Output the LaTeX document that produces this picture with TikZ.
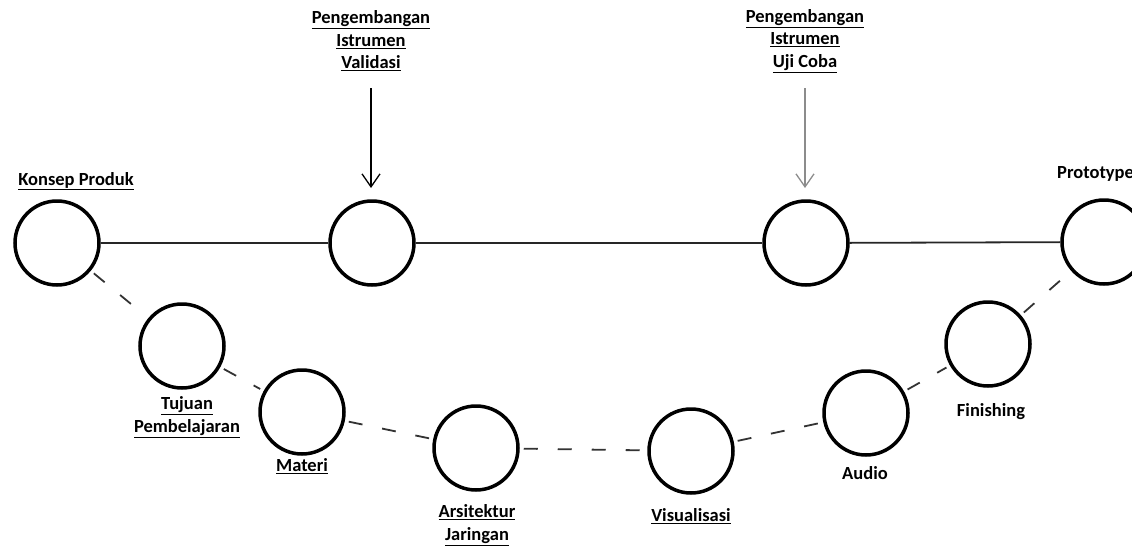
\documentclass[tikz,border=0pt]{standalone}
\usepackage{fontspec}
\setmainfont{Carlito}
\usetikzlibrary{arrows.meta}
\tikzset{
  stage/.style={circle, draw=black, line width=3.5pt, minimum size=84pt, inner sep=0pt},
  lbl/.style={font=\bfseries\fontsize{18.5}{22.5}\selectfont, align=center, inner sep=0pt},
  solidlink/.style={line width=1.8pt, draw=black!85},
  dashlink/.style={line width=1.8pt, draw=black!80, dash pattern=on 14pt off 20pt, shorten <=4pt, shorten >=4pt},
  downarrow/.style={line width=2pt, -{Straight Barb[length=13pt, width=18pt, line width=1.3pt]}},
}
\begin{document}
\begin{tikzpicture}[x=1pt, y=-1pt]
\useasboundingbox (0,0) rectangle (1132,546);
% nodes
\node[stage] (konsep) at (57,243) {};
\node[stage] (valid) at (372,243) {};
\node[stage] (uji) at (806,243) {};
\node[stage] (proto) at (1104,242) {};
\node[stage] (tujuan) at (182,346) {};
\node[stage] (materi) at (302,412) {};
\node[stage] (arsi) at (476,448) {};
\node[stage] (visual) at (691,451) {};
\node[stage] (audio) at (866,413) {};
\node[stage] (finish) at (988,344) {};
% labels
\node[lbl] (lkonsep) at (76,181) {\underline{Konsep Produk}};
\node[lbl] (lvalid) at (371,41) {\underline{Pengembangan}\\\underline{Istrumen}\\\underline{Validasi}};
\node[lbl] (luji) at (805,41) {\underline{Pengembangan}\\\underline{Istrumen}\\\underline{Uji Coba}};
\node[lbl, anchor=west] (lproto) at (1057,174) {Prototype};
\node[lbl] (ltujuan) at (187,417) {\underline{Tujuan}\\\underline{Pembelajaran}};
\node[lbl] (lmateri) at (302,466) {\underline{Materi}};
\node[lbl] (larsi) at (477,525) {\underline{Arsitektur}\\\underline{Jaringan}};
\node[lbl] (lvisual) at (691,516) {\underline{Visualisasi}};
\node[lbl] (laudio) at (865,473) {Audio};
\node[lbl] (lfinish) at (991,412) {Finishing};
% arrows
\coordinate (avs) at (371,88);
\coordinate (ave) at (371,188);
\coordinate (aus) at (805,88);
\coordinate (aue) at (805,188);
\draw[downarrow] (avs) -- (ave);
\draw[downarrow, draw=black!45] (aus) -- (aue);
% solid links
\draw[solidlink] (konsep) -- (valid);
\draw[solidlink] (valid) -- (uji);
\draw[solidlink] (uji) -- (proto);
% dashed links
\draw[dashlink] (konsep) -- (tujuan);
\draw[dashlink] (tujuan) -- (materi);
\draw[dashlink] (materi) -- (arsi);
\draw[dashlink] (arsi) -- (visual);
\draw[dashlink] (visual) -- (audio);
\draw[dashlink] (audio) -- (finish);
\draw[dashlink] (finish) -- (proto);
\end{tikzpicture}
\end{document}
